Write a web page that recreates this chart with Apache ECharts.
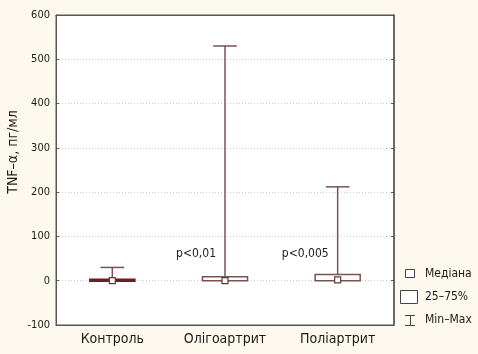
<!DOCTYPE html>
<html>
<head>
<meta charset="utf-8">
<script src="https://cdn.jsdelivr.net/npm/echarts@6/dist/echarts.min.js"></script>
<style>
    html, body {margin: 0; padding: 0; background: #fef9ee;}
    #chart {width: 478px; height: 354px;}
</style>
</head>
<body>
<div id="chart"></div>
<script>
// групи
var groups = ['Контроль', 'Олігоартрит', 'Поліартрит'];
// min, Q1, медіана, Q3, max
var minArr = [0, 0, 0];
var q1Arr = [0, 0, 0];
var medArr = [0, 0, 2];
var q3Arr = [1, 9, 14];
var maxArr = [30, 530, 212];
var pLabels = ['', 'p<0,01', 'p<0,005'];
var pLevel = 60;
var yTicks = [-100, 0, 100, 200, 300, 400, 500, 600];

var FONT = '"DejaVu Sans Condensed", "Liberation Sans Narrow", "Liberation Sans", sans-serif';
var LINE = '#7a5252';

var boxData = groups.map(function (g, i) {
    return [i, minArr[i], q1Arr[i], medArr[i], q3Arr[i], maxArr[i]];
});

function renderBox(params, api) {
    var i = api.value(0);
    var pMin = api.coord([i, api.value(1)]);
    var pQ1 = api.coord([i, api.value(2)]);
    var pMed = api.coord([i, api.value(3)]);
    var pQ3 = api.coord([i, api.value(4)]);
    var pMax = api.coord([i, api.value(5)]);
    var band = api.size([1, 0])[0];
    var bw = band * 0.4, cw = band * 0.21;
    var x = pQ3[0];
    var thin = (pQ1[1] - pQ3[1]) < 2;
    var children = [
        {type: 'line', shape: {x1: x, y1: pQ3[1], x2: x, y2: pMax[1]}, style: {stroke: LINE, lineWidth: 1.5}},
        {type: 'line', shape: {x1: x - cw / 2, y1: pMax[1], x2: x + cw / 2, y2: pMax[1]}, style: {stroke: LINE, lineWidth: 1.5}},
        {type: 'line', shape: {x1: x, y1: pQ1[1], x2: x, y2: pMin[1]}, style: {stroke: LINE, lineWidth: 1.5}},
        {type: 'rect', shape: {x: x - bw / 2, y: thin ? pQ1[1] - 1.5 : pQ3[1], width: bw, height: thin ? 2 : pQ1[1] - pQ3[1]},
            style: {fill: thin ? '#6a1e22' : '#fff', stroke: thin ? '#6a1e22' : LINE, lineWidth: 1.5}},
        {type: 'rect', shape: {x: pMed[0] - 3, y: pMed[1] - 3, width: 6, height: 6},
            style: {fill: '#fff', stroke: '#5a3a3a', lineWidth: 1.2}}
    ];
    var lbl = pLabels[i];
    if (lbl) {
        var pp = api.coord([i, pLevel]);
        children.push({type: 'text', x: pp[0] - 9, y: pp[1],
            style: {text: lbl, fill: '#222', font: '12px ' + FONT, align: 'right', verticalAlign: 'middle'}});
    }
    return {type: 'group', children: children};
}

var chart = echarts.init(document.getElementById('chart'));
var option = {
    backgroundColor: '#fef9ee',
    animation: false,
    grid: {left: 56, right: 84, top: 15, bottom: 29, show: true, backgroundColor: '#fff', borderColor: '#555', borderWidth: 1},
    xAxis: [
        {
            type: 'category', data: groups, position: 'bottom',
            axisLine: {onZero: false, lineStyle: {color: '#555'}},
            axisTick: {alignWithLabel: true, inside: true, length: 3, lineStyle: {color: '#555'}},
            axisLabel: {color: '#1a1a1a', fontFamily: FONT, fontSize: 14, margin: 7}
        },
        {
            type: 'category', data: groups, position: 'top',
            axisLine: {onZero: false, lineStyle: {color: '#555'}},
            axisTick: {alignWithLabel: true, inside: true, length: 3, lineStyle: {color: '#555'}},
            axisLabel: {show: false}
        }
    ],
    yAxis: [
        {
            type: 'value', min: yTicks[0], max: yTicks[yTicks.length - 1], interval: 100,
            axisLine: {show: true, onZero: false, lineStyle: {color: '#555'}},
            axisTick: {show: true, inside: true, length: 3, lineStyle: {color: '#555'}},
            axisLabel: {color: '#1a1a1a', fontFamily: FONT, fontSize: 11, margin: 6},
            splitLine: {show: true, lineStyle: {color: '#cfcfcf', type: [1, 2], width: 1}}
        },
        {
            type: 'value', position: 'right', min: yTicks[0], max: yTicks[yTicks.length - 1], interval: 100,
            axisLine: {show: true, onZero: false, lineStyle: {color: '#555', width: 1.5}},
            axisTick: {show: true, inside: true, length: 3, lineStyle: {color: '#555'}},
            axisLabel: {show: false},
            splitLine: {show: false}
        }
    ],
    series: [
        {
            type: 'custom',
            renderItem: renderBox,
            data: boxData,
            encode: {x: 0, y: [1, 2, 3, 4, 5]},
            clip: false
        }
    ],
    graphic: [
        {type: 'text', x: 13, y: 152, rotation: Math.PI / 2, style: {text: 'TNF–α, пг/мл', fill: '#1a1a1a', font: '14px ' + FONT, align: 'center', verticalAlign: 'middle'}},
        // легенда
        {type: 'rect', shape: {x: 405.5, y: 269.5, width: 9, height: 8}, style: {fill: '#fff', stroke: '#444', lineWidth: 1}},
        {type: 'text', x: 425, y: 274, style: {text: 'Медіана', fill: '#1a1a1a', font: '12px ' + FONT, verticalAlign: 'middle'}},
        {type: 'rect', shape: {x: 400.5, y: 290.5, width: 17, height: 13}, style: {fill: '#fff', stroke: '#444', lineWidth: 1}},
        {type: 'text', x: 425, y: 297, style: {text: '25–75%', fill: '#1a1a1a', font: '12px ' + FONT, verticalAlign: 'middle'}},
        {type: 'polyline', shape: {points: [[405, 315.5], [415, 315.5]]}, style: {stroke: '#444', lineWidth: 1}},
        {type: 'polyline', shape: {points: [[410.5, 315], [410.5, 325]]}, style: {stroke: '#444', lineWidth: 1}},
        {type: 'polyline', shape: {points: [[405, 325.5], [415, 325.5]]}, style: {stroke: '#444', lineWidth: 1}},
        {type: 'text', x: 425, y: 320, style: {text: 'Min–Max', fill: '#1a1a1a', font: '12px ' + FONT, verticalAlign: 'middle'}}
    ]
};
chart.setOption(option);
</script>
</body>
</html>
